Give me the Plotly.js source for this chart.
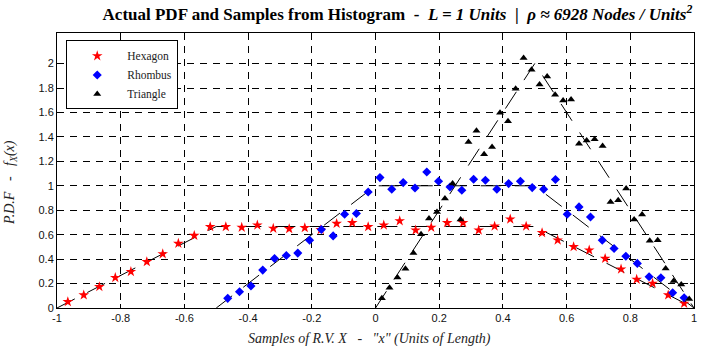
<!DOCTYPE html>
<html>
<head>
<meta charset="utf-8">
<script src="https://cdn.plot.ly/plotly-3.0.1.min.js"></script>
<style>html,body{margin:0;padding:0;background:#fff;}#chart{width:706px;height:350px;}</style>
</head>
<body>
<div id="chart"></div>
<script>
// Histogram samples
const hexX = [-0.966,-0.916,-0.867,-0.817,-0.768,-0.718,-0.668,-0.619,-0.569,-0.519,
              -0.470,-0.420,-0.371,-0.321,-0.271,-0.222,-0.172,-0.122,-0.073,-0.023,
               0.026, 0.076, 0.126, 0.175, 0.225, 0.275, 0.324, 0.374, 0.423, 0.473,
               0.523, 0.572, 0.622, 0.671, 0.721, 0.771, 0.820, 0.870, 0.919, 0.969];
const hexY = [0.051,0.106,0.174,0.248,0.297,0.378,0.443,0.528,0.593,0.664,
              0.664,0.659,0.678,0.651,0.648,0.656,0.640,0.691,0.697,0.664,
              0.678,0.713,0.637,0.659,0.697,0.697,0.637,0.669,0.727,0.669,
              0.615,0.555,0.501,0.473,0.405,0.318,0.234,0.201,0.106,0.038];

const rhoX = [-0.464,-0.427,-0.391,-0.354,-0.317,-0.280,-0.244,-0.207,-0.170,-0.133,
              -0.097,-0.060,-0.023, 0.014, 0.051, 0.087, 0.124, 0.161, 0.198, 0.234,
               0.271, 0.308, 0.345, 0.381, 0.418, 0.455, 0.492, 0.528, 0.565, 0.602,
               0.639, 0.675, 0.712, 0.749, 0.786, 0.822, 0.859, 0.896, 0.933, 0.969];
const rhoY = [0.079,0.133,0.180,0.310,0.405,0.430,0.449,0.555,0.642,0.590,
              0.767,0.773,0.949,1.067,0.971,1.026,0.982,1.113,1.037,0.990,
              0.963,1.053,1.045,0.971,1.018,1.037,0.985,0.971,1.051,0.767,
              0.827,0.745,0.555,0.487,0.424,0.365,0.256,0.248,0.125,0.084];

const triX = [0.020,0.044,0.069,0.094,0.119,0.143,0.168,0.193,0.218,0.242,
              0.267,0.292,0.317,0.341,0.366,0.391,0.416,0.440,0.465,0.490,
              0.515,0.539,0.564,0.589,0.614,0.639,0.663,0.688,0.713,0.738,
              0.762,0.787,0.812,0.837,0.861,0.886,0.911,0.936,0.960,0.985];
const triY = [0.079,0.166,0.250,0.321,0.451,0.604,0.732,0.786,0.895,1.018,
              0.724,1.358,1.450,1.257,1.317,1.597,1.527,1.793,2.046,1.949,
              1.829,1.894,1.744,1.698,1.706,1.344,1.371,1.380,1.325,0.868,
              0.882,0.977,0.724,0.765,0.550,0.555,0.324,0.220,0.193,0.073];

// Actual PDFs (breakpoints)
const hexPdfX = [-1, -0.5, 0.5, 1];
const hexPdfY = [0, 0.6667, 0.6667, 0];
const rhoPdfX = [-0.5, 0, 0.5, 1];
const rhoPdfY = [0, 1, 1, 0];
const triPdfX = [0, 0.5, 1];
const triPdfY = [0, 2, 0];

// Tick labels
const xTickVals = [-1,-0.8,-0.6,-0.4,-0.2,0,0.2,0.4,0.6,0.8,1];
const xTickText = ["-1","-0.8","-0.6","-0.4","-0.2","0","0.2","0.4","0.6","0.8","1"];
const yTickVals = [0,0.2,0.4,0.6,0.8,1,1.2,1.4,1.6,1.8,2];
const yTickText = ["0","0.2","0.4","0.6","0.8","1","1.2","1.4","1.6","1.8","2"];

const pdfLine = {color:'#000', width:1, dash:'20px,14px'};
const traces = [
  {x:hexPdfX, y:hexPdfY, mode:'lines', line:pdfLine, showlegend:false, hoverinfo:'skip'},
  {x:rhoPdfX, y:rhoPdfY, mode:'lines', line:pdfLine, showlegend:false, hoverinfo:'skip'},
  {x:triPdfX, y:triPdfY, mode:'lines', line:pdfLine, showlegend:false, hoverinfo:'skip'},
  {x:hexX, y:hexY, mode:'markers', name:'Hexagon',
   marker:{symbol:'star', size:8, color:'#ff0000', line:{width:0}}},
  {x:rhoX, y:rhoY, mode:'markers', name:'Rhombus',
   marker:{symbol:'diamond', size:7, color:'#0000ff', line:{width:0}}},
  {x:triX, y:triY, mode:'markers', name:'Triangle',
   marker:{symbol:'triangle-up', size:7, color:'#000000', line:{width:0}}}
];

const sp = '\u00A0';
const axisCommon = {
  showline:true, linecolor:'#000', linewidth:1, mirror:'ticks',
  ticks:'inside', ticklen:4, tickcolor:'#000', tickwidth:1,
  showgrid:true, gridcolor:'#000', gridwidth:1, griddash:'7px,6px',
  zeroline:false,
  tickfont:{family:'Liberation Sans, Arial, sans-serif', size:11, color:'#111'}
};

const layout = {
  width:706, height:350,
  margin:{l:57, r:12, t:33, b:42},
  paper_bgcolor:'#fff', plot_bgcolor:'#fff',
  title:{
    text:'<b>Actual PDF and Samples from Histogram'+sp+sp+'-'+sp+sp+'<i>L = 1 Units</i>'+sp+sp+'|'+sp+sp+'<i>\u03C1 \u2248 6928 Nodes / Units<sup>2</sup></i></b>',
    font:{family:'Liberation Serif, Times New Roman, serif', size:17, color:'#000'},
    xref:'container', yref:'container', x:0.563, xanchor:'center', y:0.96, yanchor:'middle'
  },
  xaxis: Object.assign({}, axisCommon, {range:[-1,1], tickmode:'array', tickvals:xTickVals, ticktext:xTickText}),
  yaxis: Object.assign({}, axisCommon, {range:[0,2.25], tickmode:'array', tickvals:yTickVals, ticktext:yTickText}),
  legend:{
    x:0.0145, xanchor:'left', y:0.973, yanchor:'top',
    bgcolor:'#fff', bordercolor:'#000', borderwidth:1,
    font:{family:'Liberation Serif, Times New Roman, serif', size:11.5, color:'#222'},
    itemwidth:50, tracegroupgap:0
  },
  annotations:[
    {text:'<i>Samples of R.V. X'+sp+sp+' -'+sp+sp+' "x" (Units of Length)</i>', xref:'paper', yref:'paper',
     x:0.49, y:-0.113, xanchor:'center', yanchor:'middle', showarrow:false,
     font:{family:'Liberation Serif, Times New Roman, serif', size:14, color:'#222'}},
    {text:'<i>P.D.F'+sp+sp+' -'+sp+sp+' f<sub>X</sub>(x)</i>', xref:'paper', yref:'paper',
     x:-0.072, y:0.455, xanchor:'center', yanchor:'middle', textangle:-90, showarrow:false,
     font:{family:'Liberation Serif, Times New Roman, serif', size:14, color:'#222'}}
  ],
  showlegend:true
};

Plotly.newPlot('chart', traces, layout, {staticPlot:true, displayModeBar:false});
</script>
</body>
</html>
